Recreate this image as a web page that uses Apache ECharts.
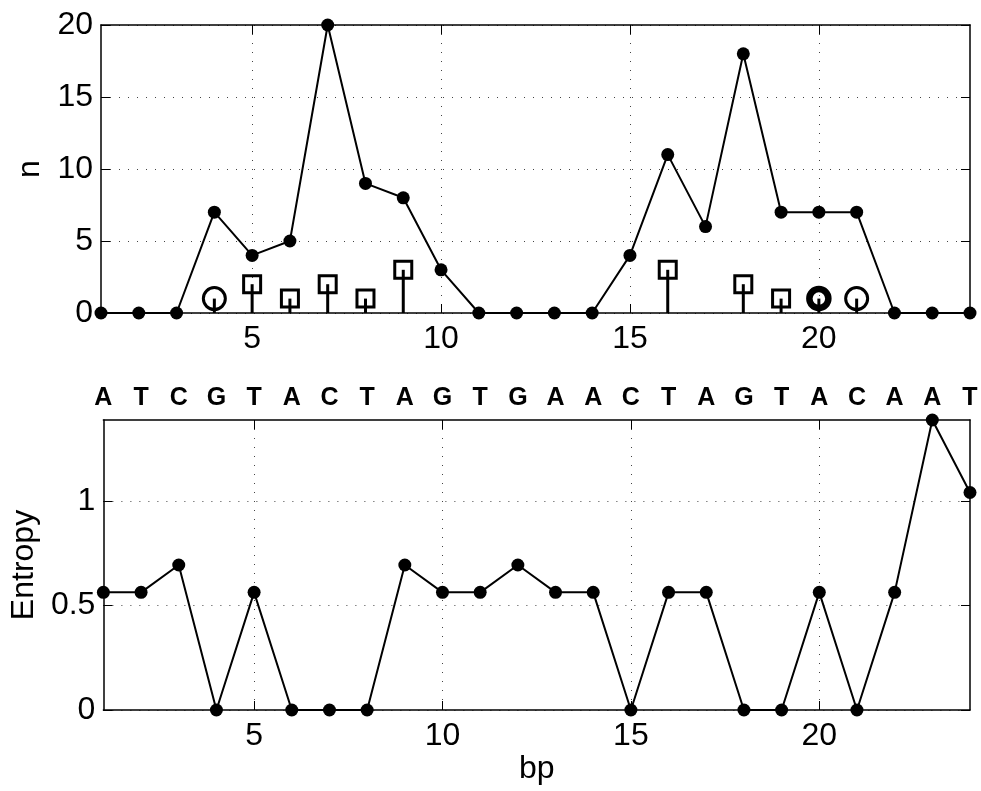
<!DOCTYPE html>
<html><head><meta charset="utf-8">
<script src="https://cdn.jsdelivr.net/npm/echarts@6/dist/echarts.min.js"></script>
<style>html,body{margin:0;padding:0;background:#fff}#c{width:981px;height:791px}</style>
</head><body><div id="c"></div>
<script>
// ---- data ----
const bp = [1,2,3,4,5,6,7,8,9,10,11,12,13,14,15,16,17,18,19,20,21,22,23,24];
const nValues = [0,0,0,7,4,5,20,9,8,3,0,0,0,0,4,11,6,18,7,7,7,0,0,0];
const squareStems = [[5,2],[6,1],[7,2],[8,1],[9,3],[16,3],[18,2],[19,1]];
const circleStems = [[4,1],[21,1]];
const boldCircleStems = [[20,1]];
const entropy = [0.5623,0.5623,0.6931,0,0.5623,0,0,0,0.6931,0.5623,0.5623,0.6931,0.5623,0.5623,0,0.5623,0.5623,0,0,0.5623,0,0.5623,1.3863,1.0397];
const bases = ['A','T','C','G','T','A','C','T','A','G','T','G','A','A','C','T','A','G','T','A','C','A','A','T'];
const xTicks = [5,10,15,20];
const nTicks = [0,5,10,15,20];
const entropyTicks = [0,0.5,1];
const entropyMax = 1.3863;

// ---- style ----
const FONT = 'Liberation Sans, Arial, Helvetica, sans-serif';
const dotted = {type:[1,8], color:'#444', width:1};
const axisLine = {show:true, onZero:false, lineStyle:{color:'#000', width:1.5}};
const tickIn = (vals) => ({show:true, inside:true, length:9, customValues:vals, lineStyle:{color:'#000', width:1}});
const lbl = (vals, extra) => Object.assign({show:true, customValues:vals, fontSize:32, fontFamily:FONT, color:'#000'}, extra||{});

const chart = echarts.init(document.getElementById('c'), null, {renderer:'canvas'});

function stemSeries(data, xi, yi) {
  return {
    type:'custom', xAxisIndex:xi, yAxisIndex:yi, data:data, z:2,
    renderItem:(params, api) => {
      const p0 = api.coord([api.value(0), 0]);
      const p1 = api.coord([api.value(0), api.value(1)]);
      return {type:'line', shape:{x1:p0[0], y1:p0[1], x2:p1[0], y2:p1[1]}, style:{stroke:'#000', lineWidth:3}};
    }
  };
}

const option = {
  animation:false,
  backgroundColor:'#fff',
  grid:[
    {left:101, top:25, width:869, height:288},
    {left:101, top:420, width:869, height:290}
  ],
  xAxis:[
    {type:'value', gridIndex:0, position:'bottom', min:1, max:24,
     axisLine:axisLine, axisTick:tickIn(xTicks), axisLabel:lbl(xTicks,{margin:10}),
     splitLine:{show:true, lineStyle:dotted}},
    {type:'value', gridIndex:0, position:'top', min:1, max:24,
     axisLine:axisLine, axisTick:tickIn(xTicks), axisLabel:{show:false}, splitLine:{show:false}},
    {type:'value', gridIndex:1, position:'bottom', min:1, max:24,
     name:'bp', nameLocation:'middle', nameGap:41, nameTextStyle:{fontSize:32, fontFamily:FONT, color:'#000'},
     axisLine:axisLine, axisTick:tickIn(xTicks), axisLabel:lbl(xTicks,{margin:10}),
     splitLine:{show:true, lineStyle:dotted}},
    {type:'value', gridIndex:1, position:'top', min:1, max:24,
     axisLine:axisLine, axisTick:tickIn(xTicks),
     axisLabel:{show:true, customValues:bp, fontSize:25, fontWeight:'bold', fontFamily:FONT, color:'#000', margin:9,
                formatter:(v)=>bases[Math.round(v)-1]},
     splitLine:{show:false}}
  ],
  yAxis:[
    {type:'value', gridIndex:0, position:'left', min:0, max:20,
     name:'n', nameLocation:'middle', nameGap:54, nameTextStyle:{fontSize:32, fontFamily:FONT, color:'#000'},
     axisLine:axisLine, axisTick:tickIn(nTicks), axisLabel:lbl(nTicks,{margin:8}),
     splitLine:{show:true, lineStyle:dotted}},
    {type:'value', gridIndex:0, position:'right', min:0, max:20,
     axisLine:axisLine, axisTick:tickIn(nTicks), axisLabel:{show:false}, splitLine:{show:false}},
    {type:'value', gridIndex:1, position:'left', min:0, max:entropyMax,
     name:'Entropy', nameLocation:'middle', nameGap:55, nameTextStyle:{fontSize:32, fontFamily:FONT, color:'#000'},
     axisLine:axisLine, axisTick:tickIn(entropyTicks), axisLabel:lbl(entropyTicks,{margin:8}),
     splitLine:{show:true, lineStyle:dotted}},
    {type:'value', gridIndex:1, position:'right', min:0, max:entropyMax,
     axisLine:axisLine, axisTick:tickIn(entropyTicks), axisLabel:{show:false}, splitLine:{show:false}}
  ],
  series:[
    stemSeries(squareStems, 0, 0),
    stemSeries(circleStems, 0, 0),
    stemSeries(boldCircleStems, 0, 0),
    {type:'scatter', xAxisIndex:0, yAxisIndex:0, data:squareStems, symbol:'rect', symbolSize:17, z:3,
     itemStyle:{color:'rgba(0,0,0,0)', borderColor:'#000', borderWidth:3, opacity:1}},
    {type:'scatter', xAxisIndex:0, yAxisIndex:0, data:circleStems, symbol:'circle', symbolSize:22, z:3,
     itemStyle:{color:'rgba(0,0,0,0)', borderColor:'#000', borderWidth:3, opacity:1}},
    {type:'scatter', xAxisIndex:0, yAxisIndex:0, data:boldCircleStems, symbol:'circle', symbolSize:19, z:3,
     itemStyle:{color:'rgba(0,0,0,0)', borderColor:'#000', borderWidth:6.5, opacity:1}},
    {type:'line', xAxisIndex:0, yAxisIndex:0, data:bp.map((x,i)=>[x,nValues[i]]), z:4, clip:false,
     symbol:'circle', symbolSize:13, showAllSymbol:true,
     lineStyle:{color:'#000', width:2}, itemStyle:{color:'#000', borderWidth:0}},
    {type:'line', xAxisIndex:2, yAxisIndex:2, data:bp.map((x,i)=>[x,entropy[i]]), z:4, clip:false,
     symbol:'circle', symbolSize:13, showAllSymbol:true,
     lineStyle:{color:'#000', width:2}, itemStyle:{color:'#000', borderWidth:0}}
  ]
};
chart.setOption(option);
</script></body></html>
